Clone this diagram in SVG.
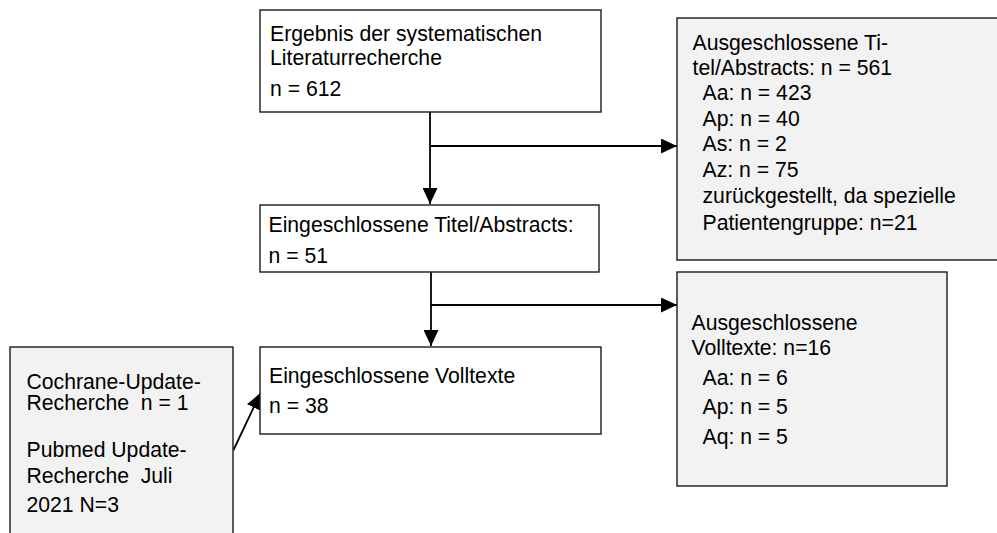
<svg xmlns="http://www.w3.org/2000/svg" width="997" height="533" viewBox="0 0 997 533">
  <defs>
    <marker id="arrow" markerUnits="userSpaceOnUse" markerWidth="16" markerHeight="15" refX="16" refY="7.5" orient="auto">
      <path d="M0,0 L16,7.5 L0,15 Z" fill="#000"/>
    </marker>
    <style>
      .box { fill: #ffffff; stroke: #1a1a1a; stroke-width: 1.4; }
      .gray { fill: #f2f2f2; stroke: #1a1a1a; stroke-width: 1.4; }
      .lbl { font-family: "Liberation Sans", Arial, sans-serif; font-size: 21.2px; fill: #000; }
      .conn { fill: none; stroke: #000; stroke-width: 1.8; }
    </style>
  </defs>
  <rect width="997" height="533" fill="#ffffff"/>

  <!-- connectors -->
  <g id="connectors">
    <path class="conn" d="M430,112 V204" marker-end="url(#arrow)"/>
    <path class="conn" d="M430,146 H677" marker-end="url(#arrow)"/>
    <path class="conn" d="M431,272 V346" marker-end="url(#arrow)"/>
    <path class="conn" d="M431,305 H677" marker-end="url(#arrow)"/>
    <path class="conn" d="M233.5,450 L260.5,393" marker-end="url(#arrow)"/>
  </g>

  <!-- search result -->
  <g id="node-search">
    <rect class="box" x="260" y="10" width="341" height="102"/>
    <text class="lbl" x="270" y="40.5">Ergebnis der systematischen</text>
    <text class="lbl" x="270" y="65">Literaturrecherche</text>
    <text class="lbl" x="270" y="96">n = 612</text>
  </g>

  <!-- excluded titles / abstracts -->
  <g id="node-excluded-abstracts">
    <rect class="gray" x="677" y="18" width="340" height="242"/>
    <text class="lbl" x="692.5" y="50">Ausgeschlossene Ti-</text>
    <text class="lbl" x="692.5" y="75">tel/Abstracts: n = 561</text>
    <text class="lbl" x="702.5" y="100">Aa: n = 423</text>
    <text class="lbl" x="702.5" y="125.5">Ap: n = 40</text>
    <text class="lbl" x="702.5" y="151">As: n = 2</text>
    <text class="lbl" x="702.5" y="177">Az: n = 75</text>
    <text class="lbl" x="702.5" y="203">zurückgestellt, da spezielle</text>
    <text class="lbl" x="702.5" y="229.5">Patientengruppe: n=21</text>
  </g>

  <!-- included titles / abstracts -->
  <g id="node-included-abstracts">
    <rect class="box" x="260" y="205" width="339" height="67"/>
    <text class="lbl" x="268.5" y="232">Eingeschlossene Titel/Abstracts:</text>
    <text class="lbl" x="268.5" y="263">n = 51</text>
  </g>

  <!-- excluded full texts -->
  <g id="node-excluded-fulltexts">
    <rect class="gray" x="677" y="272" width="270" height="214"/>
    <text class="lbl" x="691.5" y="329.5">Ausgeschlossene</text>
    <text class="lbl" x="691.5" y="355">Volltexte: n=16</text>
    <text class="lbl" x="702.5" y="385">Aa: n = 6</text>
    <text class="lbl" x="702.5" y="414">Ap: n = 5</text>
    <text class="lbl" x="702.5" y="444">Aq: n = 5</text>
  </g>

  <!-- included full texts -->
  <g id="node-included-fulltexts">
    <rect class="box" x="260" y="347" width="341" height="87"/>
    <text class="lbl" x="269" y="383">Eingeschlossene Volltexte</text>
    <text class="lbl" x="269" y="413">n = 38</text>
  </g>

  <!-- update searches -->
  <g id="node-update">
    <rect class="gray" x="10" y="347" width="223" height="200"/>
    <text class="lbl" x="26.5" y="388.5">Cochrane-Update-</text>
    <text class="lbl" x="26.5" y="410" xml:space="preserve">Recherche  n = 1</text>
    <text class="lbl" x="26.5" y="457">Pubmed Update-</text>
    <text class="lbl" x="26.5" y="483" xml:space="preserve">Recherche  Juli</text>
    <text class="lbl" x="26.5" y="512">2021 N=3</text>
  </g>
</svg>
